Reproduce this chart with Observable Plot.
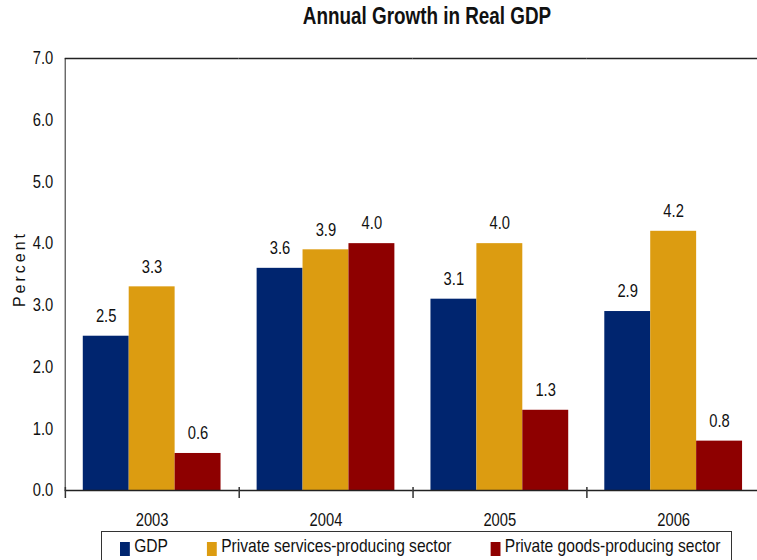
<!DOCTYPE html>
<html><head><meta charset="utf-8">
<script src="https://cdn.jsdelivr.net/npm/d3@7"></script>
<script src="https://cdn.jsdelivr.net/npm/@observablehq/plot@0.6"></script>
<style>
html,body{margin:0;padding:0;background:#fff;overflow:hidden;}
#wrap{position:relative;width:757px;height:560px;overflow:hidden;font-family:"Liberation Sans",Arial,sans-serif;color:#111;}
#title{position:absolute;left:227px;width:400px;top:5px;text-align:center;font-weight:bold;font-size:23px;line-height:23px;transform:scaleX(0.82);transform-origin:center;}
#chart{position:absolute;left:0;top:0;width:928.05px;height:530px;transform:scaleX(0.82);transform-origin:left top;}
#chart svg{max-width:none !important;width:928.05px !important;height:530px !important;display:block;}
#ylabel{position:absolute;left:20px;top:269px;transform:translate(-50%,-50%) rotate(-90deg);font-size:16px;letter-spacing:3px;white-space:nowrap;line-height:16px;}
#legend{position:absolute;left:101px;top:531px;width:631px;height:60px;border:1.5px solid #333;box-sizing:border-box;padding-left:18px;padding-top:4px;}
#legin{display:flex;align-items:flex-start;font-size:19px;line-height:19px;transform:scaleX(0.82);transform-origin:left top;white-space:nowrap;}
.item{display:flex;align-items:flex-start;margin-right:47.5px;white-space:nowrap;}
.sw{width:12.2px;height:14px;margin-top:6px;margin-right:5.2px;}
</style>
</head><body>
<div id="wrap">
  <div id="chart"></div>
  <div id="title">Annual Growth in Real GDP</div>
  <div id="ylabel">Percent</div>
  <div id="legend"><div id="legin"></div></div>
</div>
<script>
const years = ["2003", "2004", "2005", "2006"];
const series = ["GDP", "Private services-producing sector", "Private goods-producing sector"];
const gdp = [2.5, 3.6, 3.1, 2.9];
const services = [3.3, 3.9, 4.0, 4.2];
const goods = [0.6, 4.0, 1.3, 0.8];
const colors = ["#00256F", "#DC9C11", "#8E0000"];
const yTicks = [0, 1, 2, 3, 4, 5, 6, 7];

const rows = years.flatMap((yr, i) => [
  {year: yr, series: series[0], value: gdp[i]},
  {year: yr, series: series[1], value: services[i]},
  {year: yr, series: series[2], value: goods[i]}
]);

// the chart is laid out wide and squeezed horizontally (like the reference's narrow type)
const S = 0.82;
const W = 761 / S, H = 530, ML = 64 / S, MR = 0, MT = 58, MB = 40, PO = 0.38;
const facetBw = (W - ML - MR) / years.length;
const step = facetBw / (series.length + 2 * PO);
const edgeDx = -(PO * step + step / 2);
const fmt = d3.format(".1f");

const chart = Plot.plot({
  width: W, height: H,
  marginLeft: ML, marginRight: MR, marginTop: MT, marginBottom: MB,
  style: {fontFamily: '"Liberation Sans", Arial, sans-serif', fontSize: "18px", color: "#111", background: "transparent", overflow: "visible", maxWidth: "none"},
  facet: {data: rows, x: "year"},
  fx: {domain: years, padding: 0, axis: "bottom", tickSize: 0, tickPadding: 23, label: null},
  x: {domain: series, paddingInner: 0, paddingOuter: PO, axis: null},
  y: {domain: [0, 7], ticks: yTicks, tickFormat: fmt, tickSize: 0, tickPadding: 12 / S, label: null, line: true},
  color: {domain: series, range: colors},
  marks: [
    Plot.barY(rows, {x: "series", y: "value", fill: "series"}),
    Plot.text(rows, {x: "series", y: "value", text: d => fmt(d.value), dy: -20, fontSize: 18, fill: "#111"}),
    Plot.ruleY([0], {stroke: "#222", strokeWidth: 1.5}),
    Plot.ruleY([7], {stroke: "#222", strokeWidth: 1.5}),
    Plot.ruleX([0], {x: () => series[0], y1: () => 0, y2: () => 0, dx: edgeDx, insetTop: -3, insetBottom: -8, stroke: "#333", strokeWidth: 1.5 / S})
  ]
});
document.getElementById("chart").appendChild(chart);

const legend = document.getElementById("legin");
series.forEach((s, i) => {
  const it = document.createElement("div");
  it.className = "item";
  const sw = document.createElement("span");
  sw.className = "sw";
  sw.style.background = colors[i];
  const tx = document.createElement("span");
  tx.textContent = s;
  it.appendChild(sw); it.appendChild(tx);
  legend.appendChild(it);
});
</script>
</body></html>
